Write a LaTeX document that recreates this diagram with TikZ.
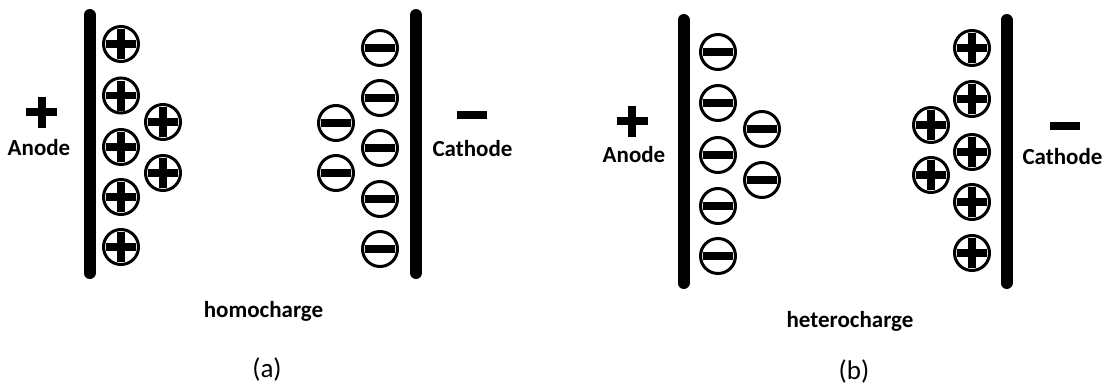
\documentclass[tikz,border=0pt]{standalone}
\usepackage{fontspec}
\setmainfont{Carlito}
\begin{document}
\begin{tikzpicture}[x=1pt,y=-1pt,
  ion/.style={circle, draw=black, line width=3pt, fill=white, minimum size=35pt, inner sep=0pt},
  posion/.style={ion, path picture={
      \fill[black] (path picture bounding box.center) ++(-15pt,-3.75pt) rectangle ++(30pt,7.5pt);
      \fill[black] (path picture bounding box.center) ++(-3.75pt,-15pt) rectangle ++(7.5pt,30pt);}},
  negion/.style={ion, path picture={
      \fill[black] (path picture bounding box.center) ++(-15pt,-4pt) rectangle ++(30pt,8pt);}},
  electrode/.style={line width=12pt, line cap=round},
  lbl/.style={font=\fontsize{23}{27}\selectfont\bfseries, anchor=base, inner sep=0pt},
  captionlbl/.style={font=\fontsize{27}{31}\selectfont, anchor=base, inner sep=0pt}
]
\useasboundingbox (0,0) rectangle (1104,389);

% ---------- panel (a) ----------
\coordinate (aAt) at (89.5,15);  \coordinate (aAb) at (89.5,273);
\coordinate (aCt) at (416,15);   \coordinate (aCb) at (416,273);
\draw[electrode] (aAt) -- (aAb);
\draw[electrode] (aCt) -- (aCb);

\fill (41.5,112) ++(-15.5,-4) rectangle ++(31,8);
\fill (41.5,112) ++(-4,-15.5) rectangle ++(8,31);
\node[lbl] (anodeA) at (39,155) {Anode};

\fill (472,115) ++(-15,-4) rectangle ++(30,8);
\node[lbl] (cathodeA) at (472.5,156) {Cathode};

\node[posion] (ap1) at (121,44) {};
\node[posion] (ap2) at (121,95.5) {};
\node[posion] (ap3) at (121,147) {};
\node[posion] (ap4) at (121,197) {};
\node[posion] (ap5) at (121,247) {};
\node[posion] (ap6) at (163,122) {};
\node[posion] (ap7) at (163,173) {};

\node[negion] (an1) at (380,48) {};
\node[negion] (an2) at (380,98) {};
\node[negion] (an3) at (380,148) {};
\node[negion] (an4) at (380,199) {};
\node[negion] (an5) at (380,249) {};
\node[negion] (an6) at (336,123) {};
\node[negion] (an7) at (336,173) {};

\node[lbl] (homo) at (263.5,317) {homocharge};
\node[captionlbl] (capa) at (267,377) {(a)};

% ---------- panel (b) ----------
\coordinate (bAt) at (683.5,20);  \coordinate (bAb) at (683.5,283);
\coordinate (bCt) at (1006.5,20); \coordinate (bCb) at (1006.5,283);
\draw[electrode] (bAt) -- (bAb);
\draw[electrode] (bCt) -- (bCb);

\fill (632,121) ++(-15.5,-4) rectangle ++(31,8);
\fill (632,121) ++(-4,-15.5) rectangle ++(8,31);
\node[lbl] (anodeB) at (634,162) {Anode};

\fill (1065,125.5) ++(-15,-4) rectangle ++(30,8);
\node[lbl] (cathodeB) at (1062.5,164) {Cathode};

\node[negion] (bn1) at (718,52) {};
\node[negion] (bn2) at (718,103) {};
\node[negion] (bn3) at (718,155) {};
\node[negion] (bn4) at (718,206) {};
\node[negion] (bn5) at (718,256) {};
\node[negion] (bn6) at (762,129) {};
\node[negion] (bn7) at (762,180) {};

\node[posion] (bp1) at (972,48) {};
\node[posion] (bp2) at (972,99) {};
\node[posion] (bp3) at (972,152) {};
\node[posion] (bp4) at (972,202) {};
\node[posion] (bp5) at (972,253) {};
\node[posion] (bp6) at (931,125) {};
\node[posion] (bp7) at (931,175) {};

\node[lbl] (hetero) at (850,327) {heterocharge};
\node[captionlbl] (capb) at (854,379) {(b)};
\end{tikzpicture}
\end{document}
